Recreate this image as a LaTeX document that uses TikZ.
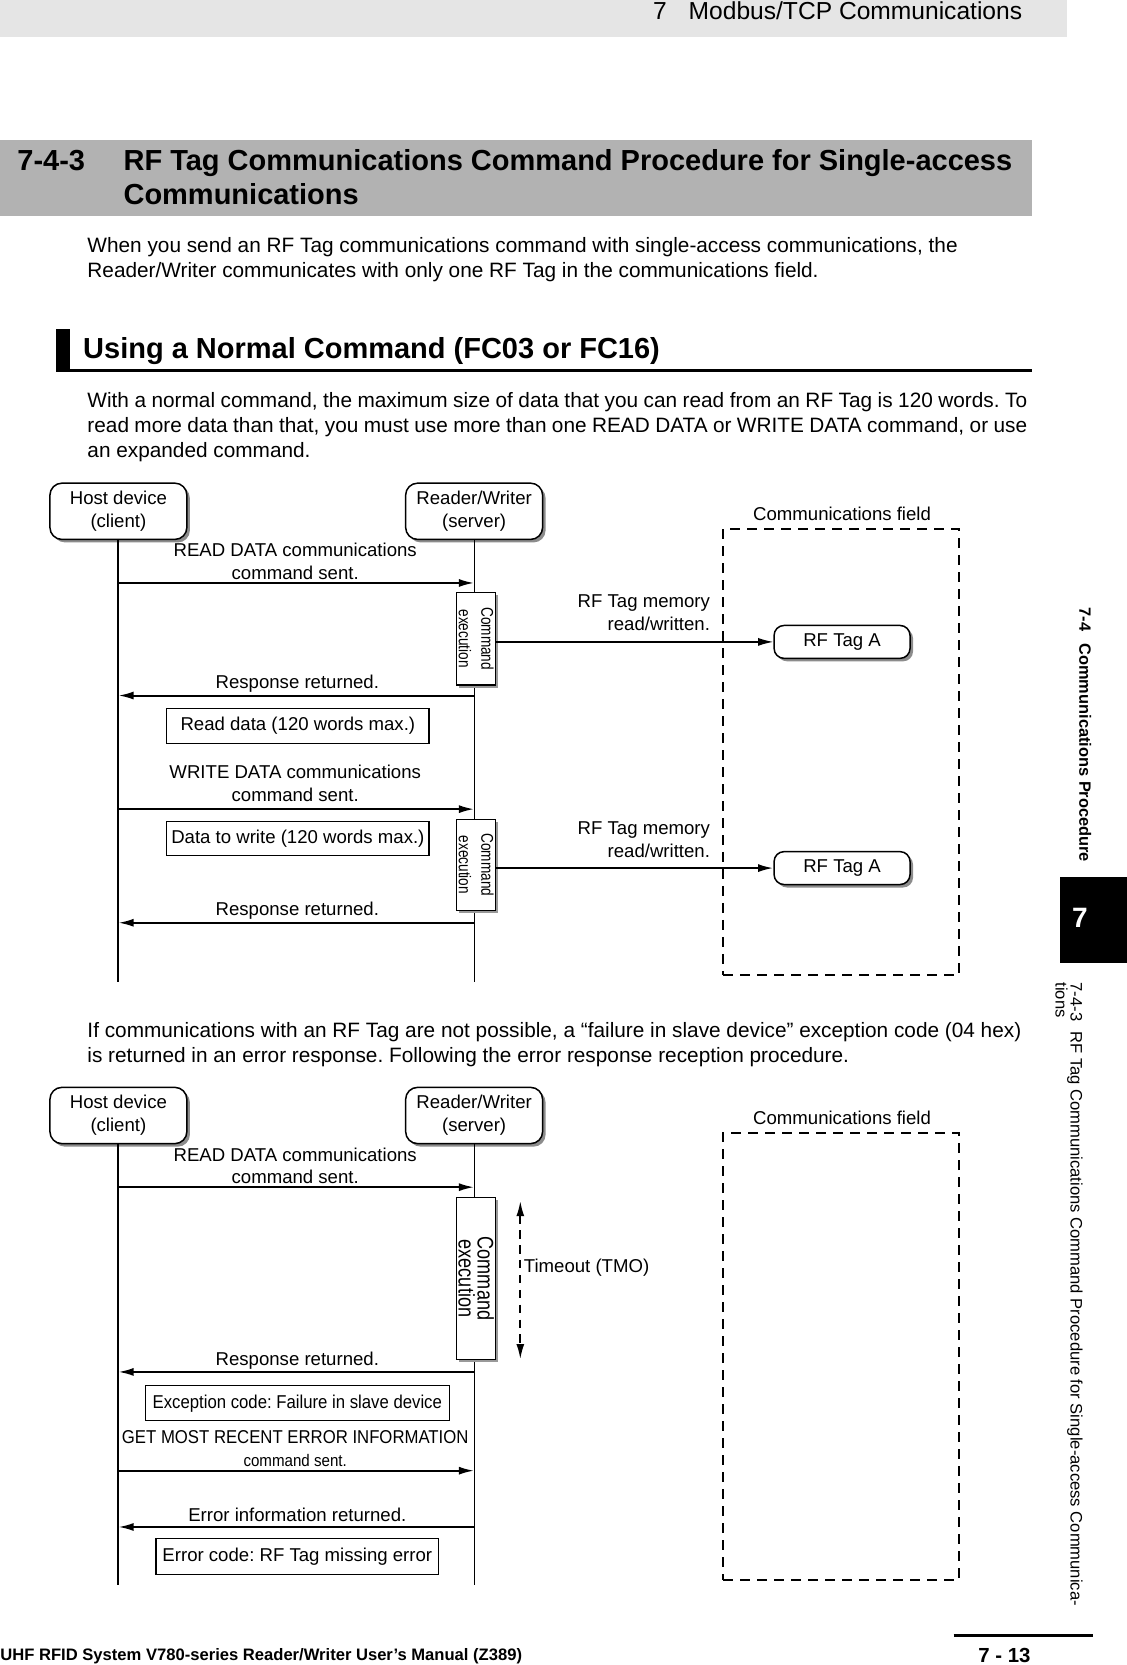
\documentclass[tikz,border=0pt]{standalone}
\usepackage{fontspec}
\usepackage{graphicx}
\setmainfont{Liberation Sans}
\newfontfamily\narrowfam{Liberation Sans}[FakeStretch=0.9]
\newfontfamily\cmdfam{Liberation Sans}[FakeStretch=0.8]
\usetikzlibrary{arrows.meta,shadows}
\frenchspacing
\newlength\px \setlength\px{0.5311pt}
\definecolor{hdrgray}{gray}{0.9}
\definecolor{secgray}{gray}{0.7}
\newcommand\bodyf{\fontsize{10.4pt}{12.4pt}\selectfont}
\newcommand\diagf{\fontsize{9.3pt}{11.4pt}\selectfont}
\newcommand\narf{\narrowfam\fontsize{9.3pt}{11.4pt}\selectfont}
\newcommand\headf{\bfseries\fontsize{14.5pt}{17pt}\selectfont}
\newcommand\hdrf{\fontsize{12.3pt}{14pt}\selectfont}
\newcommand\footf{\bfseries\fontsize{8.3pt}{10pt}\selectfont}
\newcommand\pagef{\bfseries\fontsize{10.2pt}{12pt}\selectfont}
\newcommand\sideaf{\bfseries\fontsize{8.2pt}{9pt}\selectfont}
\newcommand\sidebf{\fontsize{8.3pt}{7.5pt}\selectfont\lineskiplimit=-20pt}
\newcommand\cmdtext[2]{\rotatebox{-90}{\cmdfam\fontsize{#1}{#2}\selectfont\vbox{\lineskiplimit=-100pt\halign{\hfil##\hfil\cr Command\cr execution\cr}}}}
\begin{document}
\begin{tikzpicture}[x=0.5311pt,y=-0.5311pt,
  actor/.style={draw, line width=0.75pt, rounded corners=6pt, fill=white, align=center, inner sep=0pt,
    minimum width=68.5pt, minimum height=28.15pt, font=\diagf,
    drop shadow={shadow xshift=1.5pt, shadow yshift=-1.5pt, fill=black!45, opacity=1}},
  tagbox/.style={actor, minimum height=16.46pt, minimum width=68pt, rounded corners=5pt},
  databox/.style={draw, line width=0.6pt, fill=white, inner sep=0pt, font=\diagf},
  cmdbox/.style={draw, line width=0.6pt, fill=white, inner sep=0pt, minimum width=19.65pt,
    drop shadow={shadow xshift=1.3pt, shadow yshift=-1.3pt, fill=black!40, opacity=1}},
  hostlife/.style={line width=1.1pt},
  rwlife/.style={line width=0.6pt},
  msg/.style={line width=1pt, -{Latex[length=7.6pt, width=4pt]}},
  memarrow/.style={line width=0.7pt, -{Latex[length=7.6pt, width=4pt]}},
  lbl/.style={font=\diagf, align=center, inner sep=0pt},
  fieldbox/.style={draw, line width=0.8pt, dash pattern=on 4.8pt off 3.7pt, inner sep=0pt},
  txt/.style={inner sep=0pt, anchor=base west},
]
\useasboundingbox (0,0) rectangle (1061,1568);

% ---------- page header ----------
\fill[hdrgray] (0,0) rectangle (1005,35);
\node[txt, anchor=base east, font=\hdrf] (hdr) at (963,18) {7\hspace{11pt}Modbus/TCP Communications};

% ---------- section title ----------
\fill[secgray] (0,132) rectangle (972,203);
\node[txt, font=\headf] (secnum) at (16,161) {7-4-3};
\node[txt, font=\headf] (sec1) at (116,161) {RF Tag Communications Command Procedure for Single-access};
\node[txt, font=\headf] (sec2) at (116,193) {Communications};

\node[txt, font=\bodyf] (p1a) at (82,238) {When you send an RF Tag communications command with single-access communications, the};
\node[txt, font=\bodyf] (p1b) at (82,261) {Reader/Writer communicates with only one RF Tag in the communications field.};

% ---------- sub heading ----------
\fill (53,310) rectangle (66,350);
\draw[line width=1.1pt] (53,349) -- (972,349);
\node[txt, font=\headf] (h2) at (78,338) {Using a Normal Command (FC03 or FC16)};

\node[txt, font=\bodyf] (p2a) at (82,384) {\makebox[885\px][s]{With a normal command, the maximum size of data that you can read from an RF Tag is 120 words. To}};
\node[txt, font=\bodyf] (p2b) at (82,407) {\makebox[885\px][s]{read more data than that, you must use more than one READ DATA or WRITE DATA command, or use}};
\node[txt, font=\bodyf] (p2c) at (82,431) {an expanded command.};

% ---------- diagram 1 ----------
\node[actor] (host1) at (111.5,481.5) {Host device\\(client)};
\node[actor] (rw1) at (446.5,481.5) {Reader/Writer\\(server)};
\coordinate (h1end) at (111.5,925);
\coordinate (r1end) at (446.5,925);
\draw[hostlife] (host1.south) -- (h1end);
\draw[rwlife] (rw1.south) -- (r1end);

\node[font=\diagf, inner sep=0pt] (cf1lbl) at (793,484) {Communications field};
\node[fieldbox, minimum width=117.9pt, minimum height=223.06pt] (field1) at (792,708) {};

\coordinate (m1s) at (111.5,549);
\coordinate (m1e) at (446.5,549);
\draw[msg] (m1s) -- (m1e);
\node[lbl] (l1) at (278,529) {READ DATA communications\\command sent.};

\node[cmdbox, minimum height=46.2pt] (cmd1) at (448.5,601.5) {\cmdtext{8.5pt}{11.2pt}};
\node[tagbox] (tag1) at (793,604.5) {RF Tag A};
\draw[memarrow] (cmd1.east |- tag1.west) -- (tag1.west);
\node[lbl, anchor=east, align=right] (rl1) at (669,577) {RF Tag memory\\read/written.};

\coordinate (m2s) at (446.5,655);
\coordinate (m2e) at (111.5,655);
\draw[msg] (m2s) -- (m2e);
\node[lbl] (l2) at (280,644) {Response returned.};
\node[databox, minimum width=131.2pt, minimum height=17.5pt] (d1) at (280.5,683.5) {Read data (120 words max.)};

\coordinate (m3s) at (111.5,762);
\coordinate (m3e) at (446.5,762);
\draw[msg] (m3s) -- (m3e);
\node[lbl] (l3) at (278,738) {WRITE DATA communications\\command sent.};
\node[databox, minimum width=131.2pt, minimum height=17pt] (d2) at (280.5,790) {Data to write (120 words max.)};

\node[cmdbox, minimum height=45.7pt] (cmd2) at (448.5,814.5) {\cmdtext{8.5pt}{11.2pt}};
\node[tagbox] (tag2) at (793,817.5) {RF Tag A};
\draw[memarrow, line width=1pt] (cmd2.east |- tag2.west) -- (tag2.west);
\node[lbl, anchor=east, align=right] (rl2) at (669,791) {RF Tag memory\\read/written.};

\coordinate (m4s) at (446.5,869);
\coordinate (m4e) at (111.5,869);
\draw[msg] (m4s) -- (m4e);
\node[lbl] (l4) at (280,858) {Response returned.};

% ---------- paragraph 3 ----------
\node[txt, font=\bodyf] (p3a) at (82,977) {If communications with an RF Tag are not possible, a “failure in slave device” exception code (04 hex)};
\node[txt, font=\bodyf] (p3b) at (82,1001) {is returned in an error response. Following the error response reception procedure.};

% ---------- diagram 2 ----------
\node[actor] (host2) at (111.5,1050.5) {Host device\\(client)};
\node[actor] (rw2) at (446.5,1050.5) {Reader/Writer\\(server)};
\coordinate (h2end) at (111.5,1493);
\coordinate (r2end) at (446.5,1493);
\draw[hostlife] (host2.south) -- (h2end);
\draw[rwlife] (rw2.south) -- (r2end);

\node[font=\diagf, inner sep=0pt] (cf2lbl) at (793,1053) {Communications field};
\node[fieldbox, minimum width=117.9pt, minimum height=223.6pt] (field2) at (792,1277.5) {};

\coordinate (n1s) at (111.5,1118);
\coordinate (n1e) at (446.5,1118);
\draw[msg] (n1s) -- (n1e);
\node[lbl] (k1) at (278,1098) {READ DATA communications\\command sent.};

\node[cmdbox, minimum height=80.7pt] (cmd3) at (448.5,1204) {\cmdtext{11.3pt}{9.5pt}};
\coordinate (t1) at (490,1131);
\coordinate (t2) at (490,1280);
\draw[line width=0.9pt, dash pattern=on 4.25pt off 3.2pt, {Latex[length=7.6pt, width=4pt]}-{Latex[length=7.6pt, width=4pt]}] (t1) -- (t2);
\node[lbl, anchor=west] (tmo) at (493,1194) {Timeout (TMO)};

\coordinate (n2s) at (446.5,1292);
\coordinate (n2e) at (111.5,1292);
\draw[msg] (n2s) -- (n2e);
\node[lbl] (k2) at (280,1281) {Response returned.};
\node[databox, font=\narf, minimum width=151.9pt, minimum height=17.5pt] (e1) at (280,1321.5) {Exception code: Failure in slave device};

\coordinate (n3s) at (111.5,1385);
\coordinate (n3e) at (446.5,1385);
\draw[msg] (n3s) -- (n3e);
\node[lbl, font=\narf] (k3) at (278,1364) {GET MOST RECENT ERROR INFORMATION\\{\fontsize{8.4pt}{10pt}\selectfont command sent.}};

\coordinate (n4s) at (446.5,1438);
\coordinate (n4e) at (111.5,1438);
\draw[msg] (n4s) -- (n4e);
\node[lbl] (k4) at (280,1427) {Error information returned.};
\node[databox, minimum width=141.3pt, minimum height=18pt] (e2) at (280,1466) {Error code: RF Tag missing error};

% ---------- side tab ----------
\node[rotate=-90, anchor=west, font=\sideaf, inner sep=0pt] (side1) at (1022,572) {7-4\hspace{6pt}Communications Procedure};
\fill (998,826) rectangle (1061,907);
\node[text=white, font=\bfseries\fontsize{14pt}{16pt}\selectfont, inner sep=0pt] (chap) at (1017,864) {7};
\node[rotate=-90, anchor=north west, font=\sidebf, align=left, inner sep=0pt] (side2) at (1020,925) {7-4-3\hspace{5pt}RF Tag Communications Command Procedure for Single-access Communica-\\tions};

% ---------- footer ----------
\draw[line width=1.6pt] (898,1540) -- (1029,1540);
\node[txt, font=\footf] (foot) at (0,1564) {UHF RFID System V780-series Reader/Writer User’s Manual (Z389)};
\node[txt, font=\pagef] (pg) at (921,1566) {7 - 13};
\end{tikzpicture}
\end{document}
